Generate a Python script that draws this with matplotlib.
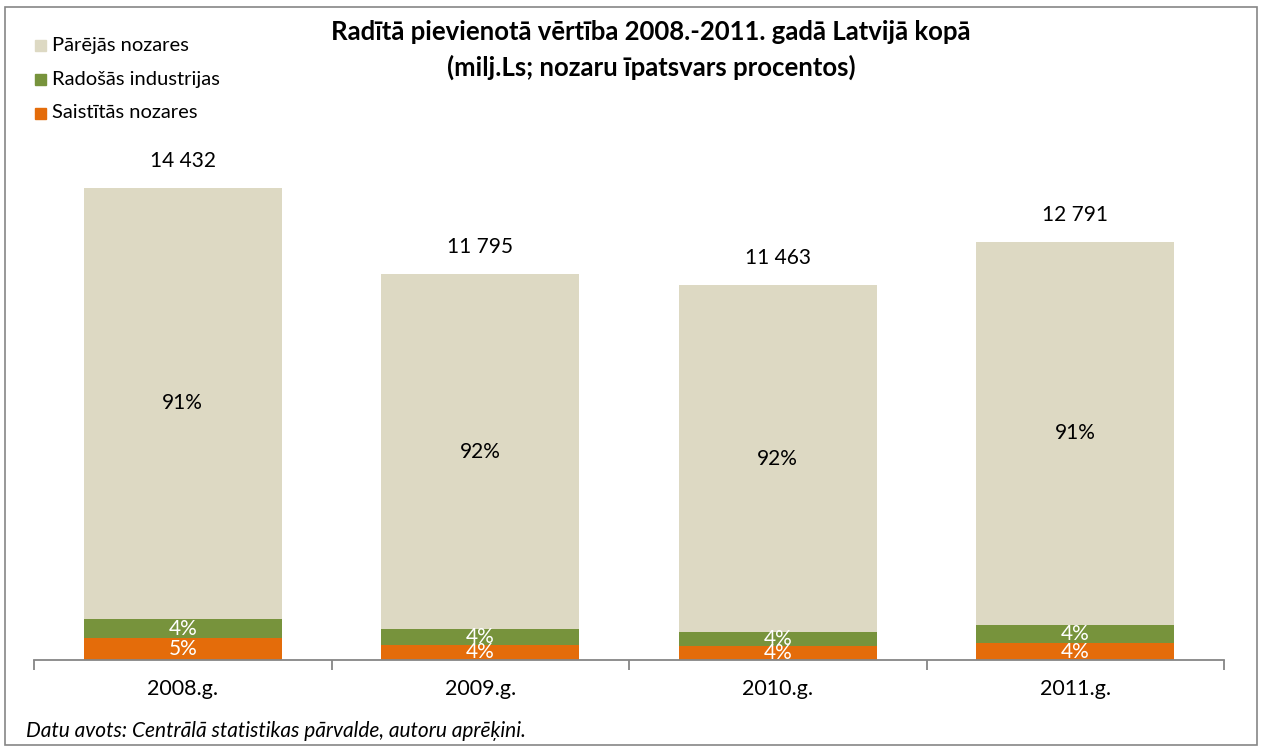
import numpy as np
import matplotlib.pyplot as plt
from matplotlib.patches import Rectangle

plt.rcParams['font.family'] = ['Lato', 'DejaVu Sans']

years = ['2008.g.', '2009.g.', '2010.g.', '2011.g.']
totals = [14432, 11795, 11463, 12791]
saistitas = [660, 460, 430, 520]
radosas = [600, 490, 430, 550]
parejas = [13172, 10845, 10603, 11721]
pct_saistitas = ['5%', '4%', '4%', '4%']
pct_radosas = ['4%', '4%', '4%', '4%']
pct_parejas = ['91%', '92%', '92%', '91%']
legend_names = ['Pārējās nozares', 'Radošās industrijas', 'Saistītās nozares']

c_orange = '#E46C0A'
c_green = '#77933C'
c_beige = '#DDD9C3'
W, H = 1264, 749

fig = plt.figure(figsize=(12.64, 7.49), dpi=100)
ax = fig.add_axes([34 / W, 1 - 660 / H, (1224 - 34) / W, (660 - 150) / H])

x = np.arange(len(years))
w = 0.666
ax.bar(x, saistitas, w, color=c_orange)
ax.bar(x, radosas, w, bottom=saistitas, color=c_green)
base = np.array(saistitas) + np.array(radosas)
ax.bar(x, parejas, w, bottom=base, color=c_beige)

for i in range(len(years)):
    ax.text(x[i], saistitas[i] / 2, pct_saistitas[i], ha='center', va='center',
            color='white', fontsize=15)
    ax.text(x[i], saistitas[i] + radosas[i] / 2, pct_radosas[i], ha='center', va='center',
            color='white', fontsize=15)
    ax.text(x[i], base[i] + parejas[i] / 2, pct_parejas[i], ha='center', va='center',
            color='black', fontsize=15)
    ax.annotate('{:,}'.format(totals[i]).replace(',', ' '), (x[i], totals[i]),
                xytext=(0, 19.5), textcoords='offset points', ha='center', va='center',
                fontsize=15)

ax.set_xlim(-0.5, 3.5)
ax.set_ylim(0, 15600)
ax.set_yticks([])
for s in ['top', 'right', 'left']:
    ax.spines[s].set_visible(False)
ax.spines['bottom'].set_color('#868686')
ax.spines['bottom'].set_linewidth(1.3)
ax.set_xticks(np.arange(-0.5, 4, 1))
ax.set_xticklabels([])
ax.tick_params(axis='x', which='major', direction='out', length=7, color='#868686', width=1.3)
ax.set_xticks(x, minor=True)
ax.set_xticklabels(years, minor=True, fontsize=15.5)
ax.tick_params(axis='x', which='minor', length=0, pad=14)

fig.text(651 / W, 1 - 32 / H, 'Radītā pievienotā vērtība 2008.-2011. gadā Latvijā kopā',
         ha='center', va='center', fontsize=18.5, fontweight='bold')
fig.text(651 / W, 1 - 67 / H, '(milj.Ls; nozaru īpatsvars procentos)',
         ha='center', va='center', fontsize=18.5, fontweight='bold')

# legend drawn by hand so the rows sit where they do in the original
for name, col, yy in zip(legend_names, [c_beige, c_green, c_orange], [45, 79, 113]):
    fig.patches.append(Rectangle((35 / W, 1 - (yy + 6) / H), 11 / W, 11 / H,
                                 transform=fig.transFigure, color=col))
    fig.text(52 / W, 1 - yy / H, name, ha='left', va='center', fontsize=14.5)

fig.text(26 / W, 1 - 731 / H, 'Datu avots: Centrālā statistikas pārvalde, autoru aprēķini.',
         ha='left', va='center', fontsize=15, style='italic')

fig.patches.append(Rectangle((5 / W, 4 / H), 1252 / W, 738 / H,
                             transform=fig.transFigure, fill=False,
                             edgecolor='#868686', linewidth=1.2))

fig.savefig('out.png', dpi=100)
